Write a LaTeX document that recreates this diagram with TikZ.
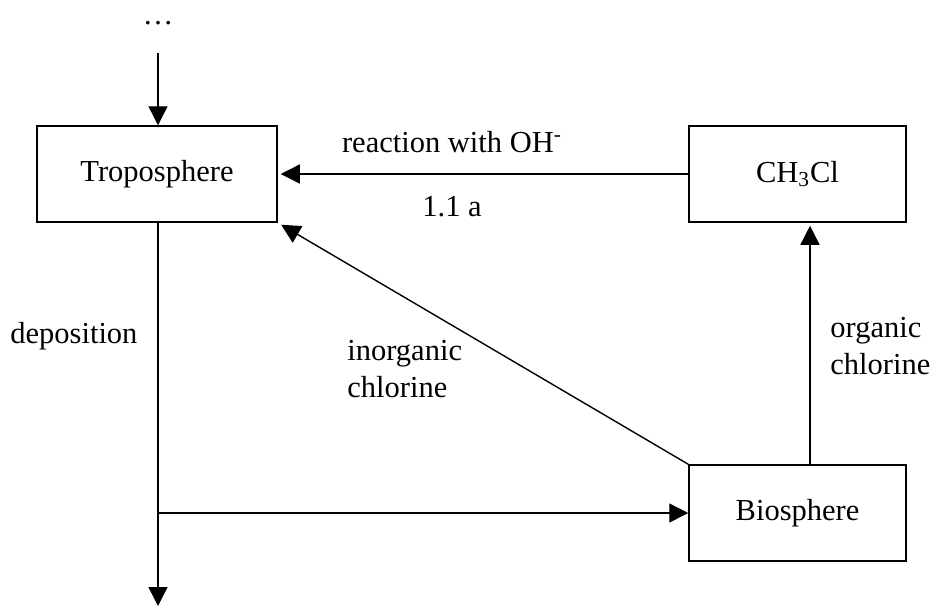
\documentclass[tikz,border=0pt]{standalone}
\usepackage{fontspec}
\setmainfont{Liberation Serif}
\usetikzlibrary{arrows.meta}
\begin{document}
\begin{tikzpicture}[x=0.5pt,y=-0.5pt,
  font=\fontsize{15.25pt}{18.3pt}\selectfont,
  box/.style={draw,line width=0.75pt,inner sep=0pt,minimum height=48pt},
  flow/.style={line width=0.7pt,-{Triangle[length=9.5pt,width=9.5pt]}},
  lbl/.style={inner sep=0pt}]
\useasboundingbox (0,0) rectangle (936,607);

% compartments
\node[box,minimum width=120pt]   (trop) at (157,174)   {Troposphere};
\node[box,minimum width=108.5pt] (ch)   at (797.5,174) {CH\textsubscript{3}Cl};
\node[box,minimum width=108.5pt] (bio)  at (797.5,513) {Biosphere};

% free ends and branch points
\coordinate (inflow)  at (158,53);
\coordinate (outflow) at (158,606);
\coordinate (branch)  at (158,513);
\coordinate (orgx)    at (810,0);

% input from above
\node[lbl,anchor=base] (dots) at (158,24) {\ldots};
\draw[flow] (inflow) -- (trop.north -| inflow);

% CH3Cl oxidised back into the troposphere
\draw[flow,shorten >=1.5pt] (ch.west) -- (trop.east);
\node[lbl,anchor=base] (react) at (452,152) {reaction with OH\textsuperscript{-}};
\node[lbl,anchor=base west] (life) at (422,216) {1.1 a};

% deposition and uptake by the biosphere
\draw[flow] (trop.south -| inflow) -- (outflow);
\draw[flow] (branch) -- (bio.west);
\node[lbl,anchor=base west] (dep) at (10,343) {deposition};

% release of inorganic chlorine (base anchor sits on the last line)
\draw[flow,shorten >=2pt] (bio.north west) -- (trop.south east);
\node[lbl,anchor=base west,align=left] (inorg) at (347,397) {inorganic\\chlorine};

% release of organic chlorine
\draw[flow,shorten >=1.5pt] (bio.north -| orgx) -- (ch.south -| orgx);
\node[lbl,anchor=base west,align=left] (org) at (830,374) {organic\\chlorine};
\end{tikzpicture}
\end{document}
